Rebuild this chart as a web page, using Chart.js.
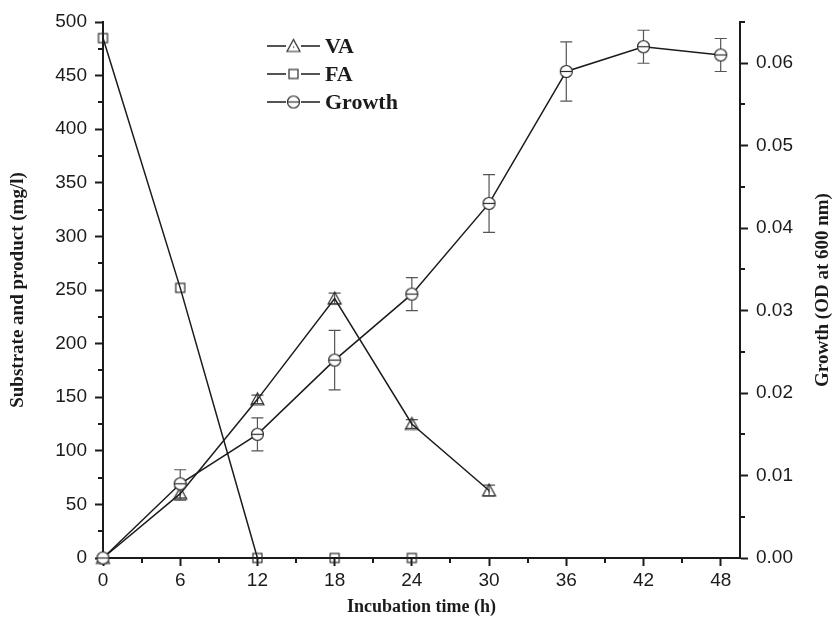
<!DOCTYPE html>
<html>
<head>
<meta charset="utf-8">
<script src="https://cdn.jsdelivr.net/npm/chart.js@4.4.0/dist/chart.umd.min.js"></script>
<style>
    body { margin: 0; background: #fff; }
    canvas { display: block; }
</style>
</head>
<body>
<canvas id="myChart" width="838" height="634"></canvas>
<script>
// values
const hours = [0, 6, 12, 18, 24, 30, 36, 42, 48];
const vaValues = [0, 60, 148, 242, 125, 63];
const vaErrors = [0, 6, 4, 5, 4, 5];
const faValues = [485, 252, 0, 0, 0];
const growthValues = [0, 0.009, 0.015, 0.024, 0.032, 0.043, 0.059, 0.062, 0.061];
const growthErrors = [0, 0.0017, 0.002, 0.0036, 0.002, 0.0035, 0.0036, 0.002, 0.002];

const xTickLabels = [0, 6, 12, 18, 24, 30, 36, 42, 48];
const xMinorTicks = [3, 9, 15, 21, 27, 33, 39, 45];
const yTickLabels = [0, 50, 100, 150, 200, 250, 300, 350, 400, 450, 500];
const y2TickLabels = ["0.00", "0.01", "0.02", "0.03", "0.04", "0.05", "0.06"];

const seriesNames = ["VA", "FA", "Growth"];

const INK = "#1b1b1b";
const TICK_FONT = { family: "'Liberation Sans', Arial, sans-serif", size: 19 };
const TITLE_FONT = { family: "'Liberation Serif', 'Times New Roman', serif", size: 18, weight: "bold" };
const SIDE_TITLE_FONT = { family: "'Liberation Serif', 'Times New Roman', serif", size: 19, weight: "bold" };

function toPoints(values) {
    return values.map((v, i) => ({ x: hours[i], y: v }));
}

function isMajor2(v) {
    return Math.round(v * 1000) % 10 == 0;
}

// marker images
function makeMarker(kind) {
    const c = document.createElement("canvas");
    c.width = 17; c.height = 17;
    const g = c.getContext("2d");
    g.strokeStyle = "#2a2a2a";
    g.lineWidth = 1.2;
    if (kind == "circle") {
        g.beginPath();
        g.arc(8.5, 8.5, 6, 0, Math.PI * 2);
        g.fillStyle = "#fff";
        g.fill();
        g.stroke();
        g.beginPath();
        g.moveTo(2.5, 8.5); g.lineTo(14.5, 8.5);
        g.stroke();
    } else if (kind == "triangle") {
        g.beginPath();
        g.moveTo(8.5, 2); g.lineTo(2, 14); g.lineTo(15, 14); g.closePath();
        g.stroke();
        g.fillStyle = "#2a2a2a";
        g.fillRect(8, 9, 1.2, 1.2);
    } else {
        g.strokeRect(4, 4, 9, 9);
    }
    return c;
}

const markers = {
    VA: makeMarker("triangle"),
    FA: makeMarker("square"),
    Growth: makeMarker("circle")
};

const errorBars = {
    id: "errorBars",
    beforeDatasetsDraw(chart) {
        const ctx = chart.ctx;
        chart.data.datasets.forEach((ds, i) => {
            if (!ds.errors) return;
            const meta = chart.getDatasetMeta(i);
            const scale = chart.scales[meta.yAxisID];
            ctx.save();
            ctx.strokeStyle = "#555";
            ctx.lineWidth = 1.2;
            meta.data.forEach((pt, j) => {
                const e = ds.errors[j];
                if (!e) return;
                const v = ds.data[j].y;
                const top = scale.getPixelForValue(v + e);
                const bot = scale.getPixelForValue(v - e);
                ctx.beginPath();
                ctx.moveTo(pt.x, top); ctx.lineTo(pt.x, bot);
                ctx.moveTo(pt.x - 6, top); ctx.lineTo(pt.x + 6, top);
                ctx.moveTo(pt.x - 6, bot); ctx.lineTo(pt.x + 6, bot);
                ctx.stroke();
            });
            ctx.restore();
        });
    }
};

// short minor ticks, right axis title and the legend box
const extras = {
    id: "extras",
    afterDraw(chart) {
        const ctx = chart.ctx;
        const area = chart.chartArea;
        ctx.save();
        ctx.strokeStyle = INK;
        ctx.lineWidth = 2;
        ctx.beginPath();
        chart.scales.x.ticks.forEach(t => {
            if (xTickLabels.includes(t.value)) return;
            const px = Math.round(chart.scales.x.getPixelForValue(t.value));
            ctx.moveTo(px, area.bottom); ctx.lineTo(px, area.bottom + 5);
        });
        chart.scales.y.ticks.forEach(t => {
            if (yTickLabels.includes(t.value)) return;
            const py = Math.round(chart.scales.y.getPixelForValue(t.value));
            ctx.moveTo(area.left, py); ctx.lineTo(area.left - 5, py);
        });
        chart.scales.y2.ticks.forEach(t => {
            if (isMajor2(t.value)) return;
            const py = Math.round(chart.scales.y2.getPixelForValue(t.value));
            ctx.moveTo(area.right, py); ctx.lineTo(area.right + 5, py);
        });
        ctx.stroke();

        // right title, reading bottom to top
        ctx.fillStyle = INK;
        ctx.font = "bold 19px 'Liberation Serif', 'Times New Roman', serif";
        ctx.textAlign = "center";
        ctx.textBaseline = "middle";
        ctx.translate(823, (area.top + area.bottom) / 2);
        ctx.rotate(-Math.PI / 2);
        ctx.fillText("Growth (OD at 600 nm)", 0, 0);
        ctx.restore();

        // legend
        ctx.save();
        ctx.strokeStyle = INK;
        ctx.lineWidth = 1.5;
        ctx.fillStyle = INK;
        ctx.font = "bold 22px 'Liberation Serif', 'Times New Roman', serif";
        ctx.textBaseline = "middle";
        seriesNames.forEach((name, i) => {
            const y = 46 + i * 28;
            ctx.beginPath();
            ctx.moveTo(267, y); ctx.lineTo(286, y);
            ctx.moveTo(301, y); ctx.lineTo(320, y);
            ctx.stroke();
            const m = markers[name];
            ctx.drawImage(m, 293.5 - m.width / 2, y - m.height / 2);
            ctx.fillText(name, 325, y + 1);
        });
        ctx.restore();
    }
};

const ctx = document.getElementById("myChart");

new Chart(ctx, {
    type: "line",
    data: {
        datasets: [
            {
                label: "Growth",
                data: toPoints(growthValues),
                errors: growthErrors,
                yAxisID: "y2",
                borderColor: INK,
                borderWidth: 1.5,
                pointStyle: markers.Growth,
                clip: false
            },
            {
                label: "VA",
                data: toPoints(vaValues),
                errors: vaErrors,
                yAxisID: "y",
                borderColor: INK,
                borderWidth: 1.5,
                pointStyle: markers.VA,
                clip: false
            },
            {
                label: "FA",
                data: toPoints(faValues),
                yAxisID: "y",
                borderColor: INK,
                borderWidth: 1.5,
                pointStyle: markers.FA,
                clip: false
            }
        ]
    },
    options: {
        responsive: false,
        animation: false,
        layout: { padding: { left: 4, right: 4, top: 22, bottom: 4 } },
        plugins: {
            legend: { display: false },
            tooltip: { enabled: false }
        },
        scales: {
            x: {
                type: "linear",
                min: 0,
                max: 49.5,
                afterBuildTicks: s => {
                    s.ticks = xTickLabels.concat(xMinorTicks).sort((a, b) => a - b).map(v => ({ value: v }));
                },
                afterFit: s => { s.height = 72; },
                ticks: {
                    autoSkip: false,
                    maxRotation: 0,
                    padding: 3,
                    color: INK,
                    font: TICK_FONT,
                    callback: v => xTickLabels.includes(v) ? String(v) : ""
                },
                grid: {
                    drawOnChartArea: false,
                    tickLength: 8,
                    tickWidth: 2,
                    tickColor: c => xTickLabels.includes(c.tick.value) ? INK : "rgba(0,0,0,0)"
                },
                border: { color: INK, width: 2 },
                title: {
                    display: true,
                    text: "Incubation time (h)",
                    color: INK,
                    font: TITLE_FONT,
                    padding: { top: 4, bottom: 12 }
                }
            },
            y: {
                position: "left",
                min: 0,
                max: 500,
                afterFit: s => { s.width = 99; },
                ticks: {
                    stepSize: 25,
                    autoSkip: false,
                    padding: 8,
                    color: INK,
                    font: TICK_FONT,
                    callback: v => yTickLabels.includes(v) ? String(v) : ""
                },
                grid: {
                    drawOnChartArea: false,
                    tickLength: 8,
                    tickWidth: 2,
                    tickColor: c => yTickLabels.includes(c.tick.value) ? INK : "rgba(0,0,0,0)"
                },
                border: { color: INK, width: 2 },
                title: {
                    display: true,
                    text: "Substrate and product (mg/l)",
                    color: INK,
                    font: SIDE_TITLE_FONT,
                    padding: { top: 3, bottom: 4 }
                }
            },
            y2: {
                position: "right",
                min: 0,
                max: 0.065,
                afterFit: s => { s.width = 94; },
                ticks: {
                    stepSize: 0.005,
                    autoSkip: false,
                    padding: 8,
                    color: INK,
                    font: TICK_FONT,
                    callback: v => isMajor2(v) ? y2TickLabels[Math.round(v * 100)] : ""
                },
                grid: {
                    drawOnChartArea: false,
                    tickLength: 8,
                    tickWidth: 2,
                    tickColor: c => isMajor2(c.tick.value) ? INK : "rgba(0,0,0,0)"
                },
                border: { color: INK, width: 2 }
            }
        }
    },
    plugins: [errorBars, extras]
});
</script>
</body>
</html>
